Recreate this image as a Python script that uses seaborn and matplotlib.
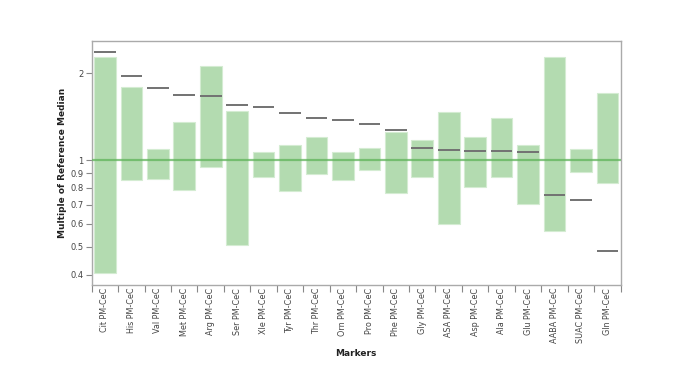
import numpy as np
import pandas as pd
import matplotlib
matplotlib.use("Agg")
import matplotlib.pyplot as plt
import seaborn as sns
from matplotlib.ticker import FixedLocator, NullLocator, FixedFormatter

markers = ["Cit PM-CeC", "His PM-CeC", "Val PM-CeC", "Met PM-CeC", "Arg PM-CeC",
           "Ser PM-CeC", "Xle PM-CeC", "Tyr PM-CeC", "Thr PM-CeC", "Orn PM-CeC",
           "Pro PM-CeC", "Phe PM-CeC", "Gly PM-CeC", "ASA PM-CeC", "Asp PM-CeC",
           "Ala PM-CeC", "Glu PM-CeC", "AABA PM-CeC", "SUAC PM-CeC", "Gln PM-CeC"]
range_low = [0.406, 0.852, 0.861, 0.785, 0.943, 0.506, 0.873, 0.780, 0.897, 0.852,
             0.921, 0.766, 0.873, 0.598, 0.806, 0.873, 0.705, 0.567, 0.911, 0.834]
range_high = [2.284, 1.797, 1.092, 1.352, 2.121, 1.480, 1.069, 1.124, 1.205, 1.069,
              1.104, 1.251, 1.176, 1.464, 1.198, 1.403, 1.124, 2.272, 1.092, 1.704]
median_value = [2.377, 1.952, 1.773, 1.681, 1.668, 1.552, 1.524, 1.460, 1.399, 1.377,
                1.334, 1.271, 1.098, 1.080, 1.077, 1.072, 1.063, 0.754, 0.728, 0.484]
y_ticks = [0.4, 0.5, 0.6, 0.7, 0.8, 0.9, 1, 2]
y_tick_labels = ["0.4", "0.5", "0.6", "0.7", "0.8", "0.9", "1", "2"]

df = pd.DataFrame({"Markers": markers, "low": range_low, "high": range_high,
                   "median": median_value})
df["span"] = df["high"] - df["low"]

sns.set_theme(style="white")
plt.rcParams["font.family"] = ["DejaVu Sans"]

fig = plt.figure(figsize=(6.85, 3.85), dpi=100)
ax = fig.add_axes([0.1339, 0.2597, 0.906 - 0.1339, 0.8935 - 0.2597])

bar_w = 0.82
sns.barplot(data=df, x="Markers", y="span", bottom=df["low"].values, order=markers,
            color="#b3dbb0", saturation=1, width=bar_w, edgecolor="#d4ecd2",
            linewidth=0.8, ax=ax, errorbar=None)

ax.set_yscale("log")
ax.set_ylim(0.368, 2.59)
ax.set_xlim(-0.5, len(markers) - 0.5)

# reference line at 1
ax.axhline(1, color="#5fb35a", alpha=0.75, linewidth=1.6, zorder=3)

# medians
xs = np.arange(len(markers))
ax.hlines(df["median"], xs - bar_w / 2, xs + bar_w / 2, color="#727272",
          linewidth=1.4, zorder=4)

ax.yaxis.set_major_locator(FixedLocator(y_ticks))
ax.yaxis.set_major_formatter(FixedFormatter(y_tick_labels))
ax.yaxis.set_minor_locator(NullLocator())

ax.tick_params(axis="y", which="major", left=True, length=4, width=0.8,
               color="#888888", labelsize=6, labelcolor="#444444", pad=2)
ax.set_xticks(xs)
ax.set_xticklabels(markers, rotation=90)
ax.tick_params(axis="x", which="major", bottom=True, length=5, width=0.8,
               color="#888888", labelsize=5.8, labelcolor="#444444", pad=2)
# ticks at band edges
ax.set_xticks(np.arange(len(markers) + 1) - 0.5, minor=True)
ax.tick_params(axis="x", which="minor", bottom=True, length=5, width=0.8, color="#888888")
ax.tick_params(axis="x", which="major", length=0)

for s in ax.spines.values():
    s.set_color("#aaaaaa")
    s.set_linewidth(1.0)
    s.set_visible(True)

ax.set_ylabel("Multiple of Reference Median", fontsize=6.5, fontweight="bold",
              color="#222222", labelpad=2)
ax.set_xlabel("Markers", fontsize=6.5, fontweight="bold", color="#222222", labelpad=4)
ax.grid(False)

fig.savefig("out.png", dpi=100)
